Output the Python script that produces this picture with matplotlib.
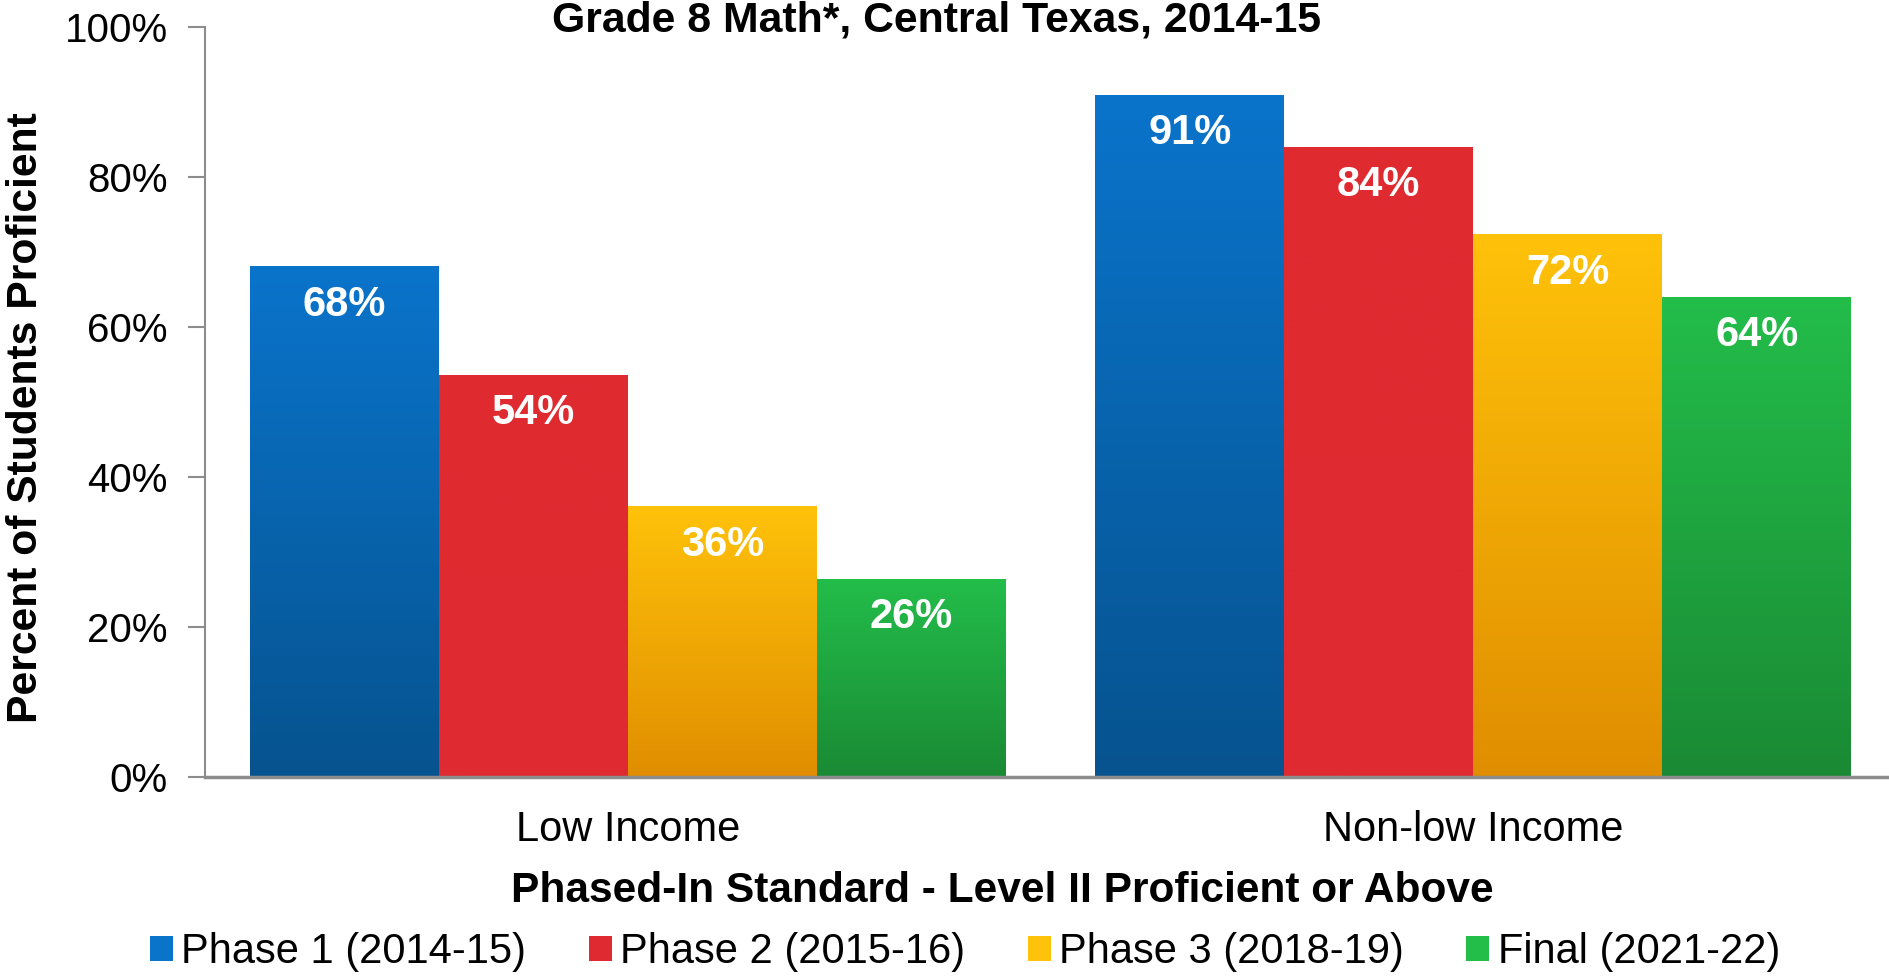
import matplotlib

matplotlib.use("Agg")
import matplotlib.pyplot as plt
import numpy as np
from matplotlib.colors import LinearSegmentedColormap
from matplotlib.patches import Patch

plt.rcParams["font.family"] = ["Liberation Sans", "DejaVu Sans"]

groups = ["Low Income", "Non-low Income"]
series = ["Phase 1 (2014-15)", "Phase 2 (2015-16)", "Phase 3 (2018-19)", "Final (2021-22)"]
phase1 = [68.1, 90.9]
phase2 = [53.6, 84.0]
phase3 = [36.1, 72.3]
final = [26.4, 64.0]
values = [phase1, phase2, phase3, final]

# (bottom, top) gradient colours per series
grads = [("#06538f", "#0a74cb"),
         ("#de2a30", "#e02a31"),
         ("#e08e00", "#ffc20a"),
         ("#1a8a34", "#23bd4a")]

W, H = 1889, 976
fig = plt.figure(figsize=(W / 100, H / 100), dpi=100)
ax = fig.add_axes([205 / W, 1 - 777 / H, (W - 205) / W, 750 / H])

x = np.arange(len(groups))
bw = 0.2235
grad = np.linspace(0, 1, 256).reshape(-1, 1)
for i, (vals, (c0, c1)) in enumerate(zip(values, grads)):
    cmap = LinearSegmentedColormap.from_list(f"g{i}", [c0, c1])
    bars = ax.bar(x + (i - 1.5) * bw, vals, bw, color=c1, linewidth=0,
                  label=series[i], zorder=2)
    for b in bars:
        bx, by, bwid, bh = b.get_x(), b.get_y(), b.get_width(), b.get_height()
        ax.imshow(grad, cmap=cmap, origin="lower", aspect="auto",
                  extent=(bx, bx + bwid, by, by + bh), zorder=3)
        ax.text(bx + bwid / 2, bh - 5.1, f"{bh:.0f}%", ha="center",
                va="center", color="white", fontsize=30, fontweight="bold",
                zorder=4)

ax.set_xlim(-0.5, 1.4917)
ax.set_ylim(0, 100)
ax.set_yticks(np.arange(0, 101, 20))
ax.set_yticklabels([f"{v}%" for v in range(0, 101, 20)])
ax.set_xticks(x)
ax.set_xticklabels(groups)
ax.tick_params(axis="y", length=12, width=1.5, color="#8c8c8c", labelsize=29,
               pad=15)
ax.tick_params(axis="x", length=0, labelsize=30, pad=24)
for s in ("top", "right"):
    ax.spines[s].set_visible(False)
ax.spines["left"].set_color("#8c8c8c")
ax.spines["left"].set_linewidth(1.5)
ax.spines["bottom"].set_color("#8c8c8c")
ax.spines["bottom"].set_linewidth(2.5)
ax.spines["bottom"].set_zorder(5)

fig.text(937 / W, 1 - 21 / H, "Grade 8 Math*, Central Texas, 2014-15",
         ha="center", va="center", fontsize=30.8, fontweight="bold")
fig.text(26 / W, 1 - 418 / H, "Percent of Students Proficient",
         ha="center", va="center", rotation=90, fontsize=30.7, fontweight="bold")
fig.text(1002 / W, 1 - 891 / H, "Phased-In Standard - Level II Proficient or Above",
         ha="center", va="center", fontsize=30.6, fontweight="bold")

handles = [Patch(facecolor=c[1]) for c in grads]
fig.legend(handles, series, loc="center", bbox_to_anchor=(965 / W, 1 - 952 / H),
           ncol=4, frameon=False, fontsize=30, handlelength=0.55,
           handleheight=0.55, handletextpad=0.2, columnspacing=1.5,
           borderaxespad=0, borderpad=0)

fig.savefig("out.png", dpi=100)
